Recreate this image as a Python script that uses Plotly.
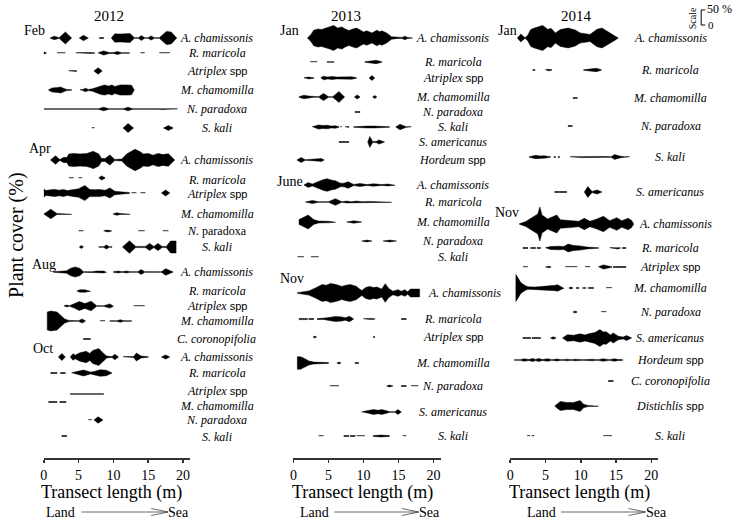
import plotly.graph_objects as go

W, H = 737, 520
PLOT_BOTTOM = 458          # pixel row of the transect axis
K = 0.3                    # pixels of half-width per 1 % cover (scale bar: 50 % = 15 px)
N = None

# ------------------------------------------------------------------ data
# transect position (m) and plant cover (%) ; None = gap between kites
feb12_species = ["A. chamissonis", "R. maricola", "Atriplex spp", "M. chamomilla", "N. paradoxa", "S. kali"]
feb12_x = [
    [0.9, 1.5, 2.2, 3.1, 4.0, N, 5.1, 5.7, 6.4, N, 8.0, 8.6, N, 9.7, 10.2, 11.0, 12.4, 13.0, 13.6, 14.0, 14.5, 15.0, 15.4, 15.9, 16.6, 17.6, 18.3, 19.1],
    [0.0, 0.4, N, 1.9, 3.1, N, 4.6, 5.3, 6.0, 6.6, 7.3, N, 7.8, 8.6, 9.4, 10.0, 10.6, 11.2, 12.3, N, 13.9, 14.5, N, 16.6, 18.1],
    [3.6, 4.7, N, 7.2, 7.8, 8.4],
    [0.7, 1.2, 2.0, 2.4, 2.9, 3.3, 4.0, N, 5.2, 5.6, 6.0, 6.4, 7.0, 8.1, 8.7, 9.3, 9.8, 10.2, 11.0, 12.0, 12.6, 13.0],
    [0.0, 7.8, 8.6, 9.4, 11.4, 12.1, 12.8, 16.5, 17.1, 17.7, 19.2],
    [6.9, 7.3, N, 11.4, 12.1, 12.9, N, 17.2, 17.9, 18.6],
]
feb12_c = [
    [0, 6, 1, 20, 0, N, 0, 9, 0, N, 1.5, 1.5, N, 0, 14, 13, 15, 1, 1, 8, 1, 1, 7, 1, 1, 22, 20, 0],
    [4, 0, N, 1, 1, N, 1, 2, 1, 1.5, 1, N, 1, 7, 1.5, 1.5, 5, 1, 1, N, 1, 1, N, 1, 1],
    [1, 1.5, N, 0, 11, 0],
    [1, 7, 8, 10, 5, 2, 1, N, 1, 2, 6, 2, 4, 14, 17, 13, 17, 12, 17, 17, 16, 0],
    [0.5, 0.5, 6, 0.5, 0.5, 6, 0.5, 0.5, 2, 0.5, 0.5],
    [1, 1, N, 0, 15, 0, N, 0, 8, 0],
]

apr12_species = ["A. chamissonis", "R. maricola", "Atriplex spp", "M. chamomilla", "N. paradoxa", "S. kali"]
apr12_x = [
    [0.95, 1.7, 2.3, 2.9, 3.3, 3.6, 4.3, 5.2, 6.2, 6.8, 7.1, 7.9, 8.3, 8.8, 9.5, 10.2, 11.2, 11.9, 13.1, 13.8, 14.3, 15.0, 15.7, 16.4, 17.1, 17.9, 18.8],
    [3.6, 4.3, N, 5.0, 5.5, N, 7.9, 8.3, 8.8],
    [0.0, 0.3, 1.0, 1.6, 2.2, 2.8, 3.4, 4.2, 5.0, 5.9, 6.6, 7.3, 8.0, 8.8, 9.5, 10.2, 10.7, 11.4, 12.3, N, 12.6, 13.3, N, 13.9, 14.6, N, 16.9, 17.5, 18.1],
    [0.0, 1.0, 1.9, 4.0, N, 10.0, 10.5, 11.0, 12.4],
    [5.0, 5.7, N, 8.6, 9.1, 9.7, N, 13.6, 14.5, N, 17.1, 17.9],
    [5.1, 5.4, 5.7, N, 7.9, 8.6, 9.0, 9.4, 9.8, N, 11.3, 12.3, 13.2, 14.0, 14.6, 15.2, 15.8, 16.4, 17.0, 17.6, 18.2, 19.0],
]
apr12_c = [
    [0, 14, 2, 9, 8, 20, 22, 20, 22, 26, 29, 20, 5, 5, 17, 2, 3, 20, 36, 28, 20, 22, 16, 22, 18, 21, 0],
    [1, 1, N, 1, 1, N, 1, 7, 1],
    [14, 8, 11, 12, 9, 12, 8, 12, 14, 25, 12, 11, 12, 9, 17, 6, 4, 3, 2, N, 1, 1, N, 1, 1, N, 0, 10, 0],
    [0, 16, 1.5, 1, N, 1, 4, 1.5, 1],
    [1, 1, N, 1, 3, 1, N, 1, 1, N, 1, 1],
    [0, 5, 0, N, 1, 1, 7, 1, 1, N, 0, 21, 2, 1, 2, 12, 2, 12, 2, 2, 20, 20],
]

aug12_species = ["A. chamissonis", "R. maricola", "Atriplex spp", "M. chamomilla", "C. coronopifolia"]
aug12_x = [
    [1.4, 3.3, 3.8, 4.5, 5.2, 5.7, 6.9, 7.6, 8.6, 9.0, N, 10.0, 10.7, 11.2, 11.9, 12.4, 13.5, 14.0, 14.5, 16.9, 17.5, 18.6],
    [4.8, 5.2, 5.9, 6.7],
    [2.9, 3.3, 3.7, 4.3, 5.1, 5.9, 6.8, 7.6, 8.6, 9.5, 10.0, N, 12.9, 14.5],
    [0.5, 1.0, 1.9, 2.4, 3.0, 3.6, 4.5, 5.0, 5.5, 6.0, N, 8.1, 8.8, N, 9.5, 10.5, 11.0, 11.5, 12.6],
    [5.7, 6.7],
]
aug12_c = [
    [1, 4, 12, 17, 12, 1, 1, 3, 3, 1, N, 1, 3, 1, 3, 1, 1, 8, 1, 1, 11, 0],
    [1, 4, 4, 1],
    [1, 3, 1, 6, 15, 8, 16, 1, 1, 7, 1, N, 1, 1],
    [30, 33, 30, 18, 7, 2, 1, 1, 7, 0, N, 1, 1, N, 1, 1, 4, 1, 1],
    [1.5, 1.5],
]

oct12_species = ["A. chamissonis", "R. maricola", "Atriplex spp", "M. chamomilla", "N. paradoxa", "S. kali"]
oct12_x = [
    [2.1, 2.6, 3.1, N, 3.8, 4.2, 4.5, 5.2, 6.1, 6.6, 7.05, 7.9, 8.6, 9.05, 9.8, 10.2, 10.7, N, 11.4, 12.9, 13.3, 14.0, 15.0, N, 16.9, 17.5, 18.1],
    [1.0, 1.9, N, 2.4, 3.1, N, 4.0, 5.0, 5.7, 6.7, 7.1, 8.1, 9.0, 9.8],
    [3.8, 4.9, 5.2, 5.5, 5.8, 6.1, 6.4, 6.7, 7.0, 7.3, 8.6],
    [0.7, 1.9, N, 2.3, 3.2],
    [6.4, 6.9, N, 7.2, 7.8, 8.5],
    [2.6, 3.3],
]
oct12_c = [
    [0, 12, 0, N, 0, 11, 6, 14, 19, 12, 22, 28, 12, 3, 1.5, 9, 1, N, 1, 1.5, 13, 3, 1, N, 0, 7, 0],
    [1.5, 1.5, N, 1.5, 1.5, N, 1, 6, 10, 3, 4, 11, 9, 0],
    [1, 1, 3, 1, 1, 3, 1, 1, 3, 1, 1],
    [1.5, 1.5, N, 1.5, 1.5],
    [1, 1, N, 0, 11, 0],
    [1.5, 1.5],
]

jan13_species = ["A. chamissonis", "R. maricola", "Atriplex spp", "M. chamomilla", "N. paradoxa", "S. kali", "S. americanus", "Hordeum spp"]
jan13_x = [
    [2.0, 2.5, 2.9, 3.5, 4.0, 4.6, 5.2, 5.75, 6.3, 6.9, 7.4, 7.9, 8.5, 9.0, 9.5, 10.0, 10.45, 11.2, 11.9, 12.3, 12.6, 13.3, 14.0, 14.9, 15.5, 15.9, 16.3, 17.0],
    [2.4, 3.4, N, 4.8, 5.3, 5.8, N, 10.2, 11.0, 11.8, 12.6],
    [1.5, 2.2, 2.9, N, 3.9, 4.3, 4.9, 5.5, 6.2, 6.9, 7.6, 8.3, 9.0, N, 10.8, 11.2, 11.6],
    [0.8, 1.5, 2.2, 2.9, 3.6, 4.3, 5.0, 5.6, 6.5, 7.3, N, 8.7, 9.1, 9.5, N, 11.3, 11.6, 11.9],
    [8.8, 9.5],
    [2.7, 3.6, 4.2, 4.8, 5.4, 6.0, 6.5, N, 6.7, 6.9, N, 7.4, 7.9, N, 8.6, 9.5, 10.5, 11.5, 12.5, 13.7, N, 14.6, 15.2, 16.1, 16.8],
    [6.5, 7.9, N, 10.6, 10.9, 11.3, 11.8, 12.2, 13.0],
    [0.5, 1.1, 1.7, 2.4, 3.2, 4.0, 4.4],
]
jan13_c = [
    [0, 12, 26, 30, 28, 33, 37, 42, 33, 37, 30, 25, 30, 33, 27, 20, 24, 17, 26, 21, 24, 17, 4, 1.5, 2, 6, 1.5, 0],
    [1, 1, N, 1, 2, 1, N, 1, 4, 5.5, 1],
    [1, 3, 1, N, 1, 6, 3, 5, 3, 4, 3, 4, 1, N, 0, 8, 0],
    [1, 6, 3, 1, 1, 12, 1, 1, 18, 0, N, 0, 7, 0, N, 0, 5, 0],
    [1.5, 1.5],
    [1, 7, 5, 6, 3, 4, 1, N, 1, 1, N, 1, 1.5, N, 1, 3, 3, 3, 3, 1, N, 0, 9, 1, 1],
    [1.5, 1.5, N, 0, 18, 2, 2, 7, 0],
    [0, 8, 1, 2, 3, 5, 0],
]

jun13_species = ["A. chamissonis", "R. maricola", "M. chamomilla", "N. paradoxa", "S. kali"]
jun13_x = [
    [1.5, 2.1, 2.7, 3.15, 3.6, 4.3, 4.8, 5.5, 6.0, 6.7, 7.2, 7.8, 8.6, 9.5, 10.5, 11.4, 12.6, 13.5, 14.5],
    [1.7, 2.7, 3.6, 5.0, 6.0, 6.9, 7.6, 8.3, 9.0, 9.75, 10.9, 12.1, 14.0],
    [0.8, 1.5, 2.1, 2.9, 3.6, 5.0, 6.0, N, 7.6, 8.6, 9.75],
    [9.75, 10.5, 11.2, N, 12.8, 13.75, 14.7],
    [0.6, 1.5, N, 2.5, 3.6],
]
jun13_c = [
    [0, 8, 3, 8, 12, 18, 21, 16, 14, 6, 6, 11, 2, 5, 1.5, 4, 1.5, 3, 1],
    [0, 5, 1, 1, 11, 1, 3, 1, 3, 1, 2, 1.5, 1],
    [8, 16, 23, 8, 3, 2.5, 1, N, 0, 4, 0],
    [0, 3, 0, N, 0, 3, 0],
    [1, 1, N, 1, 1],
]

nov13_species = ["A. chamissonis", "R. maricola", "Atriplex spp", "M. chamomilla", "N. paradoxa", "S. americanus", "S. kali"]
nov13_x = [
    [0.56, 2.2, 3.15, 4.1, 4.7, 5.3, 6.1, 6.9, 7.5, 8.1, 8.6, 9.0, 9.4, 9.75, 10.3, 10.9, 11.4, 11.9, 12.6, 13.1, 13.6, 14.2, 14.9, 15.4, 15.9, 16.3, 16.7, 18.0],
    [0.8, 2.0, N, 2.2, 2.9, N, 3.4, 4.3, 4.5, 5.3, 6.0, 6.9, 7.4, 8.0, 8.6, N, 10.0, 10.3, 10.6, 11.0, 11.6, N, 15.4, 16.1],
    [2.8, 3.05, 3.3, N, 11.4, 11.6],
    [0.56, 1.0, 1.5, 2.2, 2.9, 3.6, 5.0, N, 6.2, 6.5, 6.8, N, 8.8, 9.3],
    [5.2, 6.5, N, 13.3, 13.7, 14.2, N, 15.4, 16.1, N, 16.8, 17.8],
    [9.75, 10.7, 11.4, 12.1, 12.6, 13.3, 13.75, 14.5, 14.9, 15.4],
    [3.6, 4.3, N, 7.2, 7.9, N, 8.1, 8.8, N, 9.0, 10.2, N, 11.4, 12.5, 13.7, N, 15.6, 16.1],
]
nov13_c = [
    [1, 7, 17, 28, 26, 32, 28, 22, 26, 28, 25, 22, 14, 8, 18, 22, 18, 20, 13, 31, 15, 6, 11, 6, 11, 4, 13, 13],
    [2, 2, N, 1.5, 1.5, N, 1.5, 1.5, 3, 6, 8, 7, 4, 9, 0, N, 1, 2, 1, 2, 1, N, 1.5, 1.5],
    [0, 3, 0, N, 1.5, 1.5],
    [21, 21, 16, 7, 3, 2, 1.5, N, 0, 3, 0, N, 1.5, 1.5],
    [1, 1, N, 0, 3, 0, N, 1.5, 1.5, N, 1, 1],
    [0.5, 4, 8, 6, 8, 4, 1, 1, 8, 0],
    [1, 1, N, 1.5, 1.5, N, 1.5, 1.5, N, 1, 1, N, 1.5, 3, 1.5, N, 1, 1],
]

jan14_species = ["A. chamissonis", "R. maricola", "M. chamomilla", "N. paradoxa", "S. kali", "S. americanus"]
jan14_x = [
    [1.0, 1.5, 2.1, 2.5, 2.9, 3.4, 4.6, 5.3, 5.8, 6.4, 7.1, 8.2, 9.2, 9.9, 11.3, 12.3, 13.0, 14.1, 14.8, 15.3],
    [3.2, 3.5, N, 5.0, 5.4, 5.9, N, 10.4, 11.3, 12.2, 12.9],
    [8.9, 9.5],
    [8.2, 8.8],
    [2.7, 3.6, 4.2, 4.8, 5.7, N, 6.2, 6.4, N, 6.8, 7.0, N, 8.5, 10.0, 11.5, 13.0, 13.7, 14.3, 14.8, 15.5, 16.2, 16.9],
    [6.3, 8.0, N, 10.5, 11.0, 11.6, 12.3, 13.0],
]
jan14_c = [
    [0, 13, 1, 10, 28, 33, 42, 29, 32, 17, 28, 33, 27, 17, 12, 29, 33, 17, 8, 0],
    [1.5, 1.5, N, 1, 2.5, 1, N, 1, 4, 5.5, 1],
    [1.5, 1.5],
    [1.5, 1.5],
    [1, 5.5, 3.5, 4, 1, N, 1.5, 1.5, N, 1.5, 1.5, N, 1, 2, 2, 2, 1.5, 1, 8, 3, 1, 1],
    [1.5, 1.5, N, 0, 18, 2, 7, 0],
]

nov14_species = ["A. chamissonis", "R. maricola", "Atriplex spp", "M. chamomilla", "N. paradoxa", "S. americanus", "Hordeum spp", "C. coronopifolia", "Distichlis spp", "S. kali"]
nov14_x = [
    [1.3, 2.2, 3.4, 3.9, 4.2, 4.5, 5.3, 6.6, 7.1, 8.5, 9.7, 10.5, 11.3, 12.3, 13.2, 14.1, 15.1, 15.8, 16.7, 17.2, 17.5],
    [1.8, 2.5, N, 2.9, 3.6, N, 3.8, 4.3, N, 5.0, 5.7, 6.9, 7.6, 8.2, 9.0, 9.9, 10.9, 12.5, N, 14.1, 14.8, 15.2, 15.6, N, 15.9, 16.4],
    [1.8, 2.5, N, 5.0, 5.5, 5.8, N, 7.8, 9.5, N, 10.6, 11.3, N, 12.5, 13.2, 14.4, N, 14.6, 16.4],
    [0.8, 1.2, 1.5, 2.1, 2.5, 3.5, 4.8, 5.6, 6.4, 6.7, 7.3, 7.6, N, 8.3, 8.6, 8.9, N, 9.3, 9.5, 9.8, N, 10.2, 10.5, 10.8, N, 11.1, 11.8, N, 13.6, 14.4],
    [8.9, 9.2, 9.5, N, 12.9, 13.6],
    [1.8, 2.9, N, 3.1, 4.3, N, 5.7, 6.1, 6.5, N, 7.4, 8.1, 9.0, 9.9, 10.6, 11.1, 12.0, 12.7, 13.2, 13.6, 14.2, 14.6, 15.3, 16.0, 16.5, 17.2],
    [0.6, 1.4, 2.0, 2.6, 3.2, 3.6, 4.0, 4.6, 5.3, 5.9, 6.6, 7.3, 8.1, 8.6, 9.2, 10.3, 11.6, 12.4, 13.2, 14.0, 14.8, 15.3, 15.8, 16.0],
    [13.9, 14.6],
    [6.3, 6.8, 7.1, 8.0, 9.0, 9.9, 10.4, 11.0, 12.5],
    [2.4, 2.8, N, 3.0, 3.4, N, 13.2, 14.4],
]
nov14_c = [
    [1, 8, 26, 33, 57, 30, 17, 30, 14, 12, 9, 19, 9, 17, 26, 11, 21, 11, 19, 12, 0],
    [1.5, 1.5, N, 1.5, 1.5, N, 1.5, 1.5, N, 1, 5, 6, 5, 13, 8, 7, 3, 1, N, 1, 1.5, 3, 1, N, 1.5, 1.5],
    [1, 1, N, 0, 2.5, 0, N, 1.2, 1.2, N, 1.2, 1.2, N, 1, 7, 1, N, 1.5, 1.5],
    [45, 30, 18, 8, 4, 3, 5, 8, 9, 11, 4, 1, N, 0, 3, 0, N, 0, 2.5, 0, N, 0, 2, 0, N, 1.5, 1.5, N, 1.2, 1.2],
    [0, 3, 0, N, 1.2, 1.2],
    [1.5, 1.5, N, 1.5, 1.5, N, 0, 4, 0, N, 0, 11, 9, 14, 10, 14, 18, 28, 20, 21, 10, 17, 6, 3, 8, 0],
    [1, 1, 4, 1.5, 5, 2, 5, 1.5, 4, 1, 3, 1, 2.5, 1, 2.5, 1, 2.5, 1, 4, 1, 4, 1.5, 2, 0],
    [1.5, 1.5],
    [0, 10, 15, 12, 12, 18, 6, 2, 1],
    [1.2, 1.2, N, 1.2, 1.2, N, 1.2, 1.2],
]

years = ["2012", "2013", "2014"]
x_ticks = [0, 5, 10, 15, 20]

# ------------------------------------------------------------------ layout config
panel_px = [(40, 187), (291, 439), (509, 658)]     # axis line ends (0..21 m)
label_cx = [214, 451, 670]                          # species label centres
year_cx = [106, 344, 576]

surveys = [
    dict(p=0, month="Feb", mx=18, my=31, sp=feb12_species, x=feb12_x, c=feb12_c, base=[38, 53, 71, 90, 109, 128]),
    dict(p=0, month="Apr", mx=23, my=148, sp=apr12_species, x=apr12_x, c=apr12_c, base=[160, 178, 193, 214, 231, 247],
         ly=[160, 180, 194, 214, 231, 247], plain_np=True),
    dict(p=0, month="Aug", mx=26, my=264, sp=aug12_species, x=aug12_x, c=aug12_c, base=[272, 291, 306, 321, 339]),
    dict(p=0, month="Oct", mx=27, my=348, sp=oct12_species, x=oct12_x, c=oct12_c, base=[357, 373, 394, 402, 420, 436],
         ly=[357, 373, 391, 406, 420, 437]),
    dict(p=1, month="Jan", mx=275, my=31, sp=jan13_species, x=jan13_x, c=jan13_c, base=[38, 62, 78, 97, 112, 127, 142, 160]),
    dict(p=1, month="June", mx=272, my=181, sp=jun13_species, x=jun13_x, c=jun13_c, base=[185, 202, 222, 241, 257]),
    dict(p=1, month="Nov", mx=275, my=278, sp=nov13_species, x=nov13_x, c=nov13_c, base=[293, 319, 337, 363, 386, 412, 436],
         lx={0: 463}),
    dict(p=2, month="Jan", mx=495, my=31, sp=jan14_species, x=jan14_x, c=jan14_c, base=[38, 70, 98, 126, 157, 192]),
    dict(p=2, month="Nov", mx=492, my=212, sp=nov14_species, x=nov14_x, c=nov14_c,
         base=[224, 248, 267, 288, 312, 338, 360, 381, 406, 436], lx={0: 675}),
]

SERIF = "Liberation Serif, Times New Roman, serif"
SANS = "Liberation Sans, Arial, sans-serif"


def px(x):
    return x / W


def py(y):
    return 1 - y / PLOT_BOTTOM


def label_html(name, plain_np=False):
    if name.endswith(" spp"):
        genus = name[:-4]
        return f"<i>{genus}</i> <span style='font-family:{SANS};font-size:11px'>spp</span>"
    if plain_np and name == "N. paradoxa":
        return "<i>N.</i> paradoxa"
    return f"<i>{name}</i>"


def kite(xs, cs, y0):
    X, Y, seg = [], [], []
    for x, c in list(zip(xs, cs)) + [(None, None)]:
        if x is None:
            if seg:
                xu = [p[0] for p in seg]
                yu = [y0 - p[1] * K for p in seg]
                yl = [y0 + p[1] * K for p in seg]
                X += xu + xu[::-1] + [xu[0], None]
                Y += yu + yl[::-1] + [yu[0], None]
            seg = []
        else:
            seg.append((x, c))
    return X, Y


fig = go.Figure()
annotations = []
ax_names = ["", "2", "3"]

for s in surveys:
    xa = "x" + ax_names[s["p"]]
    ya = "y" + ax_names[s["p"]]
    ly = s.get("ly", s["base"])
    lxo = s.get("lx", {})
    for j, (name, xs, cs, b, lyy) in enumerate(zip(s["sp"], s["x"], s["c"], s["base"], ly)):
        X, Y = kite(xs, cs, b)
        fig.add_trace(go.Scatter(x=X, y=Y, xaxis=xa, yaxis=ya, mode="lines", fill="toself",
                                 fillcolor="black", line=dict(color="black", width=0.5),
                                 hoverinfo="skip", showlegend=False))
        annotations.append(dict(x=px(lxo.get(j, label_cx[s["p"]])), y=py(lyy), xref="paper", yref="paper",
                                text=label_html(name, s.get("plain_np", False)), showarrow=False,
                                xanchor="center", yanchor="middle",
                                font=dict(family=SERIF, size=12, color="black")))
    annotations.append(dict(x=px(s["mx"]), y=py(s["my"]), xref="paper", yref="paper", text=s["month"],
                            showarrow=False, xanchor="left", yanchor="middle",
                            font=dict(family=SERIF, size=14, color="black")))

layout_axes = {}
for i, (a, b) in enumerate(panel_px):
    n = ax_names[i]
    layout_axes["xaxis" + n] = dict(domain=[px(a), px(b)], range=[0, 21], anchor="y" + n,
                                   showline=True, linewidth=2, linecolor="#333", ticks="outside",
                                   ticklen=3, tickwidth=1.5, tickcolor="#333", tickvals=x_ticks,
                                   showgrid=False, zeroline=False, fixedrange=True,
                                   tickfont=dict(family=SERIF, size=14, color="black"))
    layout_axes["yaxis" + n] = dict(domain=[0, 1], range=[PLOT_BOTTOM, 0], visible=False, fixedrange=True,
                                   anchor="x" + n, showgrid=False, zeroline=False)

# year titles, axis titles, land/sea arrows
land_sea = [((57, 78, 165, 175)), ((312, 332, 417, 428)), ((540, 560, 645, 656))]
shapes = []
for i in range(3):
    annotations.append(dict(x=px(year_cx[i]), y=py(16), xref="paper", yref="paper", text=years[i],
                            showarrow=False, xanchor="center", yanchor="middle",
                            font=dict(family=SERIF, size=15, color="black")))
    a, b = panel_px[i]
    annotations.append(dict(x=px((a + b) / 2 - 5), y=py(492), xref="paper", yref="paper",
                            text="Transect length (m)", showarrow=False, xanchor="center", yanchor="middle",
                            font=dict(family=SERIF, size=18, color="black")))
    lx, l0, l1, sx = land_sea[i]
    annotations.append(dict(x=px(lx), y=py(512), xref="paper", yref="paper", text="Land", showarrow=False,
                            xanchor="center", yanchor="middle", font=dict(family=SERIF, size=14, color="black")))
    annotations.append(dict(x=px(sx), y=py(512), xref="paper", yref="paper", text="Sea", showarrow=False,
                            xanchor="center", yanchor="middle", font=dict(family=SERIF, size=14, color="black")))
    shapes.append(dict(type="line", xref="paper", yref="paper", x0=px(l0), x1=px(l1), y0=py(512), y1=py(512),
                       line=dict(color="#444", width=0.8)))
    shapes.append(dict(type="path", xref="paper", yref="paper",
                       path=f"M {px(l1 - 17)} {py(508.5)} L {px(l1)} {py(512)} L {px(l1 - 17)} {py(515.5)}",
                       line=dict(color="#444", width=0.8)))

annotations.append(dict(x=px(12), y=py(235), xref="paper", yref="paper", text="Plant cover (%)",
                        showarrow=False, textangle=-90, xanchor="center", yanchor="middle",
                        font=dict(family=SERIF, size=20, color="black")))

# scale bar (50 % cover)
sb_x, sb_y0 = 701, 25
sb_y1 = sb_y0 - 50 * K
shapes.append(dict(type="path", xref="paper", yref="y3",
                   path=f"M {px(sb_x + 4)} {sb_y1} L {px(sb_x)} {sb_y1} L {px(sb_x)} {sb_y0} L {px(sb_x + 4)} {sb_y0}",
                   line=dict(color="black", width=1)))
annotations.append(dict(x=px(693), y=py(18), xref="paper", yref="paper", text="Scale", showarrow=False,
                        textangle=-90, xanchor="center", yanchor="middle",
                        font=dict(family=SERIF, size=10, color="black")))
annotations.append(dict(x=px(705), y=py(sb_y1 - 1), xref="paper", yref="paper", text="50 %", showarrow=False,
                        xanchor="left", yanchor="middle", font=dict(family=SERIF, size=12, color="black")))
annotations.append(dict(x=px(706), y=py(sb_y0), xref="paper", yref="paper", text="0", showarrow=False,
                        xanchor="left", yanchor="middle", font=dict(family=SERIF, size=11, color="black")))

fig.update_layout(width=W, height=H, margin=dict(l=0, r=0, t=0, b=H - PLOT_BOTTOM),
                  paper_bgcolor="white", plot_bgcolor="white", hovermode=False,
                  annotations=annotations, shapes=shapes, **layout_axes)

fig.write_html("out.html", config={"displayModeBar": False, "staticPlot": True},
               post_script="document.body.style.margin='0';document.body.style.overflow='hidden';")
